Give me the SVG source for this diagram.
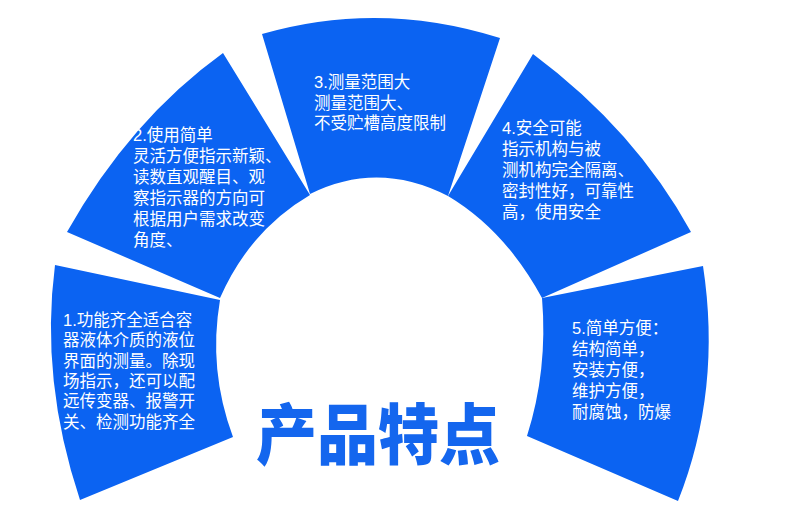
<svg xmlns="http://www.w3.org/2000/svg" width="790" height="529" viewBox="0 0 790 529">
<style>
.seg{fill:#0b63f2}
.t{fill:#fff;font-family:"Liberation Sans","Noto Sans CJK SC",sans-serif;font-size:16.5px}
.title{fill:#1466ee;font-family:"Noto Sans CJK SC",sans-serif;font-weight:900;font-size:66px}
</style>
<rect width="790" height="529" fill="#fff"/>
<g id="seg1"><path class="seg" d="M55,265 L220,300 Q208,370 233,437 L80,500 Q40,380 55,265 Z"/>
<text class="t" x="63" y="326"><tspan x="63">1.功能齐全适合容</tspan><tspan x="63" dy="20.3">器液体介质的液位</tspan><tspan x="63" dy="20.3">界面的测量。除现</tspan><tspan x="63" dy="20.3">场指示，还可以配</tspan><tspan x="63" dy="20.3">远传变器、报警开</tspan><tspan x="63" dy="20.3">关、检测功能齐全</tspan></text></g>
<g id="seg2"><path class="seg" d="M67,232 Q130,120 223,53 L310,195 Q250,230 220,298 Z"/>
<text class="t" x="133" y="141"><tspan x="133">2.使用简单</tspan><tspan x="133" dy="21">灵活方便指示新颖、</tspan><tspan x="133" dy="21">读数直观醒目、观</tspan><tspan x="133" dy="21">察指示器的方向可</tspan><tspan x="133" dy="21">根据用户需求改变</tspan><tspan x="133" dy="21">角度、</tspan></text></g>
<g id="seg3"><path class="seg" d="M262,34 Q380,0 500,38 L448,196 Q378,160 310,194 Z"/>
<text class="t" x="314" y="88"><tspan x="314">3.测量范围大</tspan><tspan x="314" dy="20.5">测量范围大、</tspan><tspan x="314" dy="20.5">不受贮槽高度限制</tspan></text></g>
<g id="seg4"><path class="seg" d="M533,54 Q635,130 691,232 L542,298 Q505,230 448,196 Z"/>
<text class="t" x="502" y="134"><tspan x="502">4.安全可能</tspan><tspan x="502" dy="21">指示机构与被</tspan><tspan x="502" dy="21">测机构完全隔离、</tspan><tspan x="502" dy="21">密封性好，可靠性</tspan><tspan x="502" dy="21">高，使用安全</tspan></text></g>
<g id="seg5"><path class="seg" d="M703,266 Q722,390 678,501 L527,436 Q548,370 542,298 Z"/>
<text class="t" x="572" y="334"><tspan x="572">5.简单方便：</tspan><tspan x="572" dy="21">结构简单，</tspan><tspan x="572" dy="21">安装方便，</tspan><tspan x="572" dy="21">维护方便，</tspan><tspan x="572" dy="21">耐腐蚀，防爆</tspan></text></g>
<g id="title"><text class="title" x="378" y="459" text-anchor="middle" textLength="244" lengthAdjust="spacingAndGlyphs">产品特点</text></g>
<g id="connectors"/>
</svg>
